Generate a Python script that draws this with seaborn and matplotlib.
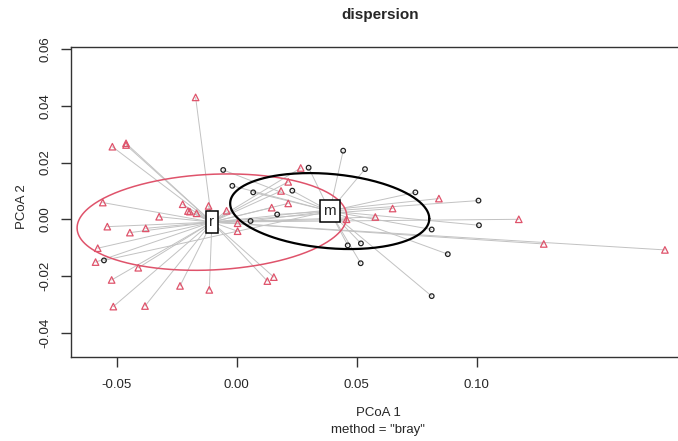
import numpy as np
import pandas as pd
import matplotlib
matplotlib.use("Agg")
import matplotlib.pyplot as plt
import seaborn as sns

# group "r" (triangles) - PCoA coordinates
r_x = [-0.0171, -0.0518, -0.0461, -0.0461, -0.0558, -0.0225, -0.0117, -0.0203, -0.0195, -0.0167,
       -0.0323, -0.0042, 0.0004, 0.0004, -0.0539, -0.0445, -0.0379, -0.0579, -0.0588, -0.0410,
       -0.0521, -0.0236, -0.0114, -0.0514, -0.0382, 0.0267, 0.0215, 0.0185, 0.0146, 0.0215,
       0.0650, 0.0578, 0.0458, 0.0128, 0.0155, 0.0843, 0.1176, 0.1280, 0.1785]
r_y = [0.0430, 0.0256, 0.0268, 0.0262, 0.0059, 0.0053, 0.0047, 0.0029, 0.0027, 0.0021,
       0.0009, 0.0030, -0.0014, -0.0042, -0.0026, -0.0047, -0.0032, -0.0102, -0.0151, -0.0171,
       -0.0214, -0.0235, -0.0249, -0.0308, -0.0306, 0.0181, 0.0132, 0.0100, 0.0041, 0.0056,
       0.0038, 0.0008, 0.0000, -0.0218, -0.0204, 0.0073, 0.0000, -0.0087, -0.0108]

# group "m" (circles)
m_x = [-0.0056, -0.0018, 0.0069, 0.0058, -0.0553, 0.0444, 0.0300, 0.0535, 0.0232, 0.0745,
       0.0169, 0.0813, 0.0880, 0.0463, 0.0518, 0.0517, 0.0813, 0.1008, 0.1010]
m_y = [0.0174, 0.0118, 0.0095, -0.0006, -0.0145, 0.0242, 0.0182, 0.0177, 0.0101, 0.0095,
       0.0017, -0.0036, -0.0123, -0.0092, -0.0085, -0.0155, -0.0271, 0.0066, -0.0021]

# centroids and sd ellipses (half x-extent, half y-extent, cos of phase)
groups = ["r", "m"]
cent_x = [-0.0103, 0.0388]
cent_y = [-0.0010, 0.0029]
ell_a = [0.0562, 0.0415]
ell_b = [0.0170, 0.0134]
ell_c = [0.12, -0.20]

red = "#DF536B"

df = pd.DataFrame({
    "x": r_x + m_x,
    "y": r_y + m_y,
    "grp": ["r"] * len(r_x) + ["m"] * len(m_x),
})

sns.set_style("white")
plt.rcParams["font.family"] = ["Liberation Sans", "DejaVu Sans"]

fig = plt.figure(figsize=(6.78, 4.41), dpi=100)
ax = fig.add_axes([71 / 678, 1 - 356.7 / 441, 618 / 678, 310 / 441])

# spider lines to centroids
for i, row in df.iterrows():
    k = groups.index(row["grp"])
    ax.plot([cent_x[k], row["x"]], [cent_y[k], row["y"]], color="#C2C2C2", lw=0.7, zorder=1)

# ellipses
t = np.linspace(0, 2 * np.pi, 300)
for k, col, lw in [(0, red, 1.1), (1, "black", 1.6)]:
    phi = np.arccos(ell_c[k])
    ex = cent_x[k] + ell_a[k] * np.cos(t)
    ey = cent_y[k] + ell_b[k] * np.cos(t - phi)
    ax.plot(ex, ey, color=col, lw=lw, zorder=2)

sns.scatterplot(data=df, x="x", y="y", hue="grp", style="grp",
                palette={"r": red, "m": "#222222"}, markers={"r": "^", "m": "o"},
                size="grp", sizes={"r": 22, "m": 11},
                linewidth=0.9, legend=False, ax=ax, zorder=3)
# open markers
for coll in ax.collections:
    fc = coll.get_facecolors()
    if len(fc):
        coll.set_edgecolors(fc)
        coll.set_facecolors("none")

for k, g in enumerate(groups):
    ax.text(cent_x[k], cent_y[k], g, ha="center", va="center", fontsize=11, zorder=4,
            bbox=dict(boxstyle="square,pad=0.25", fc="white", ec="black", lw=1.1))

ax.set_xlim(-0.06904, 0.18854)
ax.set_ylim(-0.04847, 0.06088)
ax.set_xticks([-0.05, 0.0, 0.05, 0.10])
ax.set_xticklabels(["-0.05", "0.00", "0.05", "0.10"])
ax.set_yticks([-0.04, -0.02, 0.0, 0.02, 0.04, 0.06])
ax.set_yticklabels(["-0.04", "-0.02", "0.00", "0.02", "0.04", "0.06"], rotation=90, va="center")
ax.tick_params(axis="both", direction="out", length=7, width=1, color="#333333",
               labelsize=9.5, left=True, bottom=True)
ax.tick_params(axis="x", pad=9)
ax.tick_params(axis="y", pad=7)
ax.set_xlabel("")
ax.set_ylabel("")
for s in ["left", "bottom", "top"]:
    ax.spines[s].set_color("#333333")
    ax.spines[s].set_linewidth(1)
ax.spines["right"].set_visible(False)

fig.text(380 / 678, 1 - 15 / 441, "dispersion", ha="center", va="center",
         fontsize=11, fontweight="bold")
fig.text(378 / 678, 1 - 413 / 441, "PCoA 1", ha="center", va="center", fontsize=9.5)
fig.text(378 / 678, 1 - 430 / 441, 'method = "bray"', ha="center", va="center", fontsize=9.5)
fig.text(21.7 / 678, 1 - 206.7 / 441, "PCoA 2", ha="center", va="center",
         rotation=90, fontsize=9.5)

fig.savefig("out.png", dpi=100)
